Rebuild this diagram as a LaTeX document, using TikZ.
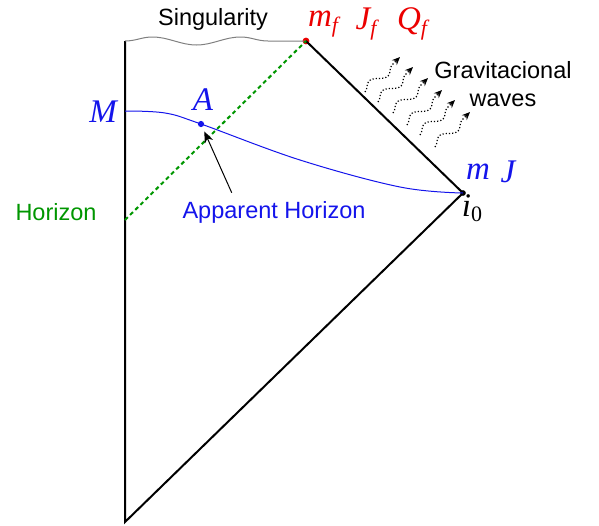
\documentclass[tikz,border=0pt]{standalone}
\usepackage{fontspec}
\setmainfont{Liberation Sans}
\newfontfamily\mathfont{Liberation Serif}
\usetikzlibrary{arrows.meta,decorations.pathmorphing}
\definecolor{hgreen}{RGB}{0,150,0}
\definecolor{ablue}{RGB}{20,20,235}
\definecolor{fred}{RGB}{235,0,0}
\newcommand{\lowidx}[1]{\raisebox{-0.35ex}{\fontsize{11}{12}\selectfont#1}}
\tikzset{
  >={Stealth[length=2mm,width=1.6mm]},
  d/.style={circle,fill,inner sep=1.2pt},
  lbl/.style={font=\fontsize{11.75}{14}\selectfont,inner sep=0pt},
  mlbl/.style={font=\fontsize{16.5}{18}\selectfont\mathfont\itshape,inner sep=0pt},
  wave/.style={densely dotted,decorate,decoration={snake,amplitude=2.5pt,segment length=17pt,post length=3pt},-{Stealth[length=1.4mm,width=1.2mm]}},
  every picture/.style={line width=1pt},
}
\begin{document}
\begin{tikzpicture}[x=0.5pt,y=-0.5pt]
\useasboundingbox (0,0) rectangle (599,525);
% corners of the diagram
\coordinate (B) at (125,522);
\coordinate (TL) at (125,41);
\coordinate (H) at (125,220);
\coordinate (Mp) at (125,111);
\node[d,fred] (mf) at (306,41) {};
\node[d,inner sep=1pt] (i0) at (463,193) {};
\node[d,ablue,inner sep=1.1pt] (Ap) at (201,124) {};
% boundaries
\draw (TL) -- (B) -- (i0.center) -- (mf.center);
\draw[gray,line width=0.5pt,decorate,decoration={snake,amplitude=2pt,segment length=44pt}] (TL) -- (mf.center);
\draw[hgreen,dashed,dash pattern=on 2pt off 1.6pt] (H) -- (mf.center);
\draw[ablue,line width=0.5pt] plot[smooth,tension=0.6] coordinates {(125,111) (165,113) (201,124) (300,160) (400,187) (463,193)};
% labels
\node[lbl] (sing) at (213,19) {Singularity};
\node[mlbl,fred] (mfl) at (323,24) {m\lowidx{f}};
\node[mlbl,fred] (Jf) at (366,24) {J\lowidx{f}};
\node[mlbl,fred] (Qf) at (412,24) {Q\lowidx{f}};
\node[lbl,align=center] (gw) at (503,84) {Gravitacional\\waves};
\node[mlbl,ablue] (m) at (478,172) {m};
\node[mlbl,ablue] (J) at (508,172) {J};
\node[mlbl] (i0l) at (472,208) {i\lowidx{\upshape 0}};
\node[mlbl,ablue] (M) at (103,112) {M};
\node[mlbl,ablue] (A) at (203,100) {A};
\node[lbl,hgreen] (hor) at (56,212) {Horizon};
\node[lbl,ablue] (ah) at (274,212) {Apparent Horizon};
\draw[->,line width=0.5pt,shorten <=4pt,shorten >=2pt] (ah.north -| 235,0) -- (Ap);
% gravitational waves
\foreach \x/\y in {365/92,378/102,393/113,407/125,420/135,435/147}
  \draw[wave,line width=0.6pt] (\x,\y) -- ++(35,-35);
\end{tikzpicture}
\end{document}
